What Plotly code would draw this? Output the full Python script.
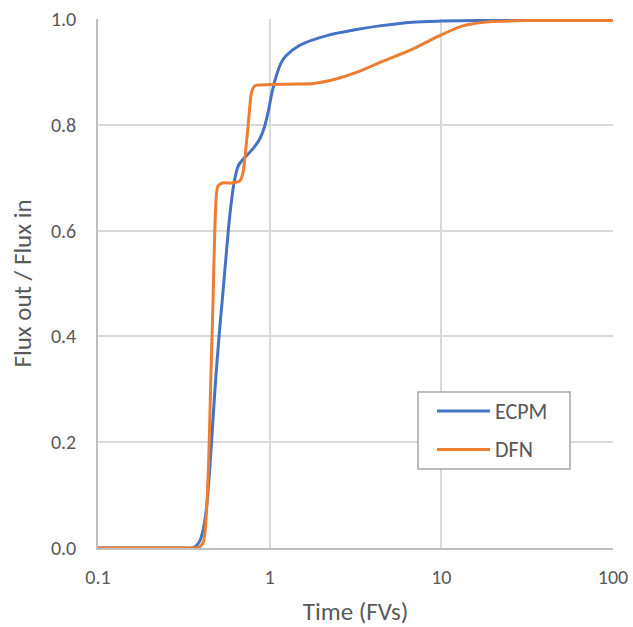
import plotly.graph_objects as go

ecpm_x = [0.1, 0.2, 0.3, 0.35, 0.37, 0.39, 0.41, 0.43, 0.45, 0.48, 0.51, 0.53, 0.56, 0.585, 0.62, 0.655, 0.70, 0.73, 0.80,
          0.875, 0.93, 0.978, 1.03, 1.094, 1.17, 1.25, 1.49, 2.23, 3.2, 4.36, 6.78, 10, 16.6, 30, 100]
ecpm_y = [0.0, 0.0, 0.0, 0.0, 0.003, 0.012, 0.035, 0.08, 0.16, 0.30, 0.41, 0.47, 0.56, 0.627, 0.69, 0.722, 0.735, 0.741, 0.755,
          0.773, 0.795, 0.823, 0.860, 0.893, 0.918, 0.931, 0.950, 0.970, 0.980, 0.987, 0.994, 0.996, 0.997, 0.997, 0.997]

dfn_x = [0.1, 0.2, 0.3, 0.37, 0.39, 0.41, 0.42, 0.44, 0.455, 0.468, 0.479, 0.49, 0.50, 0.53, 0.60, 0.67, 0.70, 0.716, 0.749,
         0.783, 0.81, 0.84, 1.0, 1.5, 1.8, 2.4, 3.2, 4.4, 6.8, 9.7, 13.3, 19, 32, 100]
dfn_y = [0.0, 0.0, 0.0, 0.0, 0.002, 0.01, 0.03, 0.15, 0.33, 0.47, 0.60, 0.67, 0.684, 0.69, 0.69, 0.694, 0.71, 0.735, 0.798,
         0.861, 0.872, 0.875, 0.876, 0.877, 0.878, 0.886, 0.899, 0.918, 0.943, 0.968, 0.987, 0.995, 0.997, 0.997]

series_names = ["ECPM", "DFN"]
series_colors = ["#4472C4", "#ED7D31"]

x_tickvals = [0.1, 1, 10, 100]
x_ticktext = ["0.1", "1", "10", "100"]
y_tickvals = [0.0, 0.2, 0.4, 0.6, 0.8, 1.0]

FONT = "Carlito, Lato, sans-serif"
GRAY = "#595959"

W, H = 633, 627
ML, MR, MT, MB = 98, 20, 19, 79
PW, PH = W - ML - MR, H - MT - MB


def px_x(p):
    return (p - ML) / PW


def px_y(p):
    return (H - MB - p) / PH


fig = go.Figure()
fig.add_trace(go.Scatter(x=ecpm_x, y=ecpm_y, mode="lines", name=series_names[0], showlegend=False,
                         line=dict(color=series_colors[0], width=3, shape="spline", smoothing=0.8)))
fig.add_trace(go.Scatter(x=dfn_x, y=dfn_y, mode="lines", name=series_names[1], showlegend=False,
                         line=dict(color=series_colors[1], width=3, shape="spline", smoothing=0.6)))

# legend box (drawn as layout shapes + text)
shapes = [dict(type="rect", xref="paper", yref="paper",
               x0=px_x(418), x1=px_x(570), y0=px_y(469), y1=px_y(392),
               line=dict(color="#a6a6a6", width=1.5), fillcolor="white", layer="above")]
annotations = []
for i, (nm, col) in enumerate(zip(series_names, series_colors)):
    yy = 411 + i * 38.5
    shapes.append(dict(type="line", xref="paper", yref="paper",
                       x0=px_x(437), x1=px_x(490), y0=px_y(yy), y1=px_y(yy),
                       line=dict(color=col, width=3), layer="above"))
    annotations.append(dict(xref="paper", yref="paper", x=px_x(493), y=px_y(yy),
                            xanchor="left", yanchor="middle", text=nm, showarrow=False,
                            font=dict(family=FONT, size=22, color=GRAY)))

fig.update_layout(
    width=W, height=H,
    margin=dict(l=ML, r=MR, t=MT, b=MB),
    paper_bgcolor="white", plot_bgcolor="white",
    font=dict(family=FONT, size=20, color=GRAY),
    showlegend=False,
    shapes=shapes, annotations=annotations,
    xaxis=dict(type="log", range=[-1, 2], tickvals=x_tickvals, ticktext=x_ticktext,
               showgrid=True, gridcolor="#d9d9d9", gridwidth=1.5,
               showline=True, linecolor="#bfbfbf", linewidth=1.5,
               ticks="", zeroline=False, automargin=False, ticklabelstandoff=10,
               tickfont=dict(size=20),
               title=dict(text="Time (FVs)", standoff=17, font=dict(size=25, color=GRAY))),
    yaxis=dict(range=[0, 1.0], tickvals=y_tickvals, tickformat=".1f",
               showgrid=True, gridcolor="#d9d9d9", gridwidth=1.5,
               showline=True, linecolor="#bfbfbf", linewidth=1.5,
               ticks="", zeroline=False, ticklabelstandoff=16, automargin=False,
               tickfont=dict(size=20),
               title=dict(text="Flux out / Flux in", standoff=12, font=dict(size=25, color=GRAY))),
)

fig.write_html("out.html")
